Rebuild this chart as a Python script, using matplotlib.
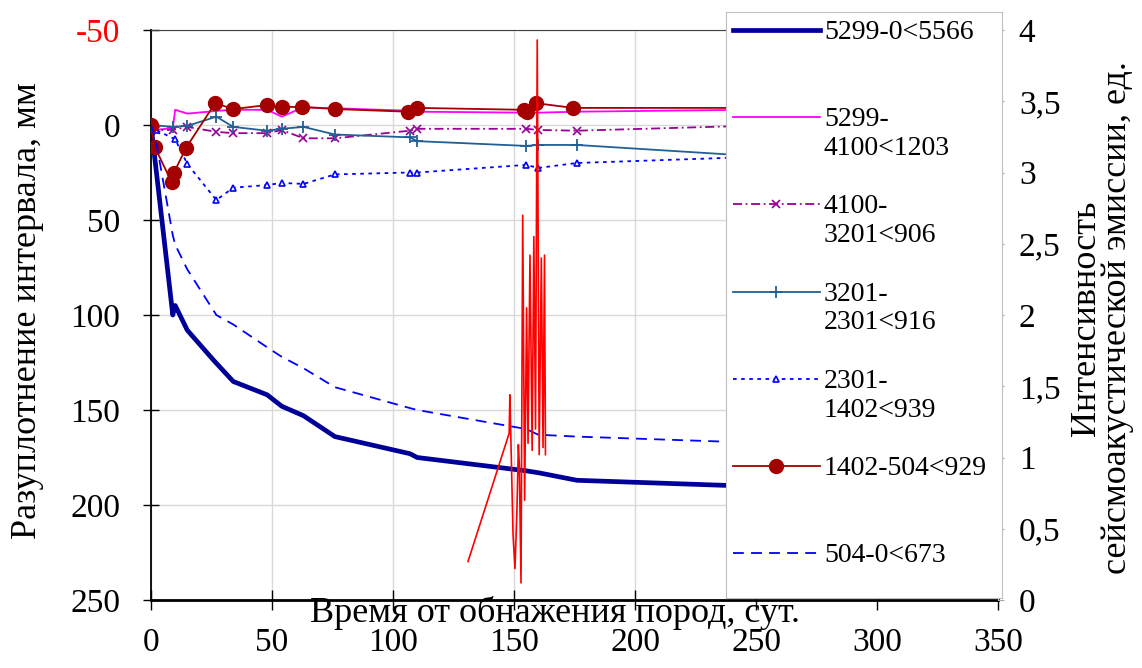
import numpy as np
import matplotlib.pyplot as plt

plt.rcParams['font.family'] = ['Liberation Serif', 'DejaVu Serif']

# %% data (days, mm; right axis: intensity)
labels = ['5299-0<5566', '5299-\n4100<1203', '4100-\n3201<906',
          '3201-\n2301<916', '2301-\n1402<939', '1402-504<929', '504-0<673']

x1 = [0, 9, 10, 15, 26, 34, 48, 54, 63, 76, 107, 110, 155, 160, 176, 245]
y1 = [0, 100, 95, 108, 124, 135, 142, 148, 153, 164, 173, 175, 182, 183, 187, 190]

x2 = [0, 2, 9, 10, 15, 27, 34, 48, 54, 63, 76, 107, 110, 155, 160, 176, 245]
y2 = [0, 2.6, 1.6, -8, -6, -7.4, -8, -8, -4.4, -9.3, -8.8, -7.5, -7, -6.5, -6.5, -7, -8]

x3 = [0, 2, 9, 15, 27, 34, 48, 54, 63, 76, 107, 110, 155, 160, 176, 245]
y3 = [0, 2.6, 2.6, 1, 3.6, 4.3, 4.3, 2.6, 7, 7, 3, 2, 2, 2.6, 3, 0.5]

x4 = [0, 9, 15, 27, 34, 48, 54, 63, 76, 107, 110, 155, 160, 176, 245]
y4 = [0, 1, 0.5, -4.4, 1, 3, 2, 1, 5, 6.5, 8.5, 11, 10.5, 10.5, 16]

x5 = [0, 2, 10, 15, 27, 34, 48, 54, 63, 76, 107, 110, 155, 160, 176, 245]
y5 = [0, 2.6, 7.5, 20.5, 39.5, 33, 31.6, 30.5, 31, 26, 25, 25, 21, 22.6, 20, 17]

x6 = [0, 1.5, 8.5, 9.5, 14.5, 26.5, 34, 48, 54, 62.5, 76, 106, 110, 154, 155.5,
      159, 174.5, 245]
y6 = [0, 11.4, 30, 25, 12, -11.5, -8.4, -10.5, -9.5, -9.5, -8.4, -7, -9, -8, -7,
      -11.5, -9, -9]

x7 = [0, 2, 9, 10, 15, 27, 34, 48, 54, 63, 76, 107, 110, 155, 160, 176, 245]
y7 = [0, 8, 58, 63, 76, 100, 105, 117, 122, 128, 138, 149, 150, 160, 163, 164, 167]

# seismoacoustic emission (right axis)
xr = [131, 148, 148.3, 149.6, 150.4, 151.2, 151.8, 152.2, 152.9, 153.6, 154.4,
      155.2, 155.8, 156.6, 157.5, 158.2, 158.9, 159.6, 160.4, 161.3, 162.0,
      162.6, 163.0]
yr = [0.27, 1.17, 1.44, 0.46, 0.22, 0.62, 1.09, 0.95, 0.12, 2.70, 0.70, 2.05,
      1.10, 2.42, 1.05, 2.55, 1.2, 3.93, 1.02, 2.4, 1.07, 2.42, 1.02]

left_ticks = [-50, 0, 50, 100, 150, 200, 250]
left_tick_labels = ['-50', '0', '50', '100', '150', '200', '250']
right_ticks = [0, 0.5, 1, 1.5, 2, 2.5, 3, 3.5, 4]
right_tick_labels = ['0', '0,5', '1', '1,5', '2', '2,5', '3', '3,5', '4']
x_ticks = [0, 50, 100, 150, 200, 250, 300, 350]

# %% styles
styles = [
    dict(color='#000099', lw=3.4),
    dict(color='#FF00FF', lw=1.3),
    dict(color='#990099', lw=1.3, ls=(0, (5, 2, 1, 2)), marker='x', ms=6,
         mew=1.2),
    dict(color='#215F96', lw=1.3, marker='+', ms=8, mew=1.3),
    dict(color='#0000FF', lw=1.3, ls=(0, (2, 2.5)), marker='^', ms=5,
         mfc='white', mew=1.2),
    dict(color='#A50000', lw=1.3, marker='o', ms=10),
    dict(color='#0000FF', lw=1.3, ls=(0, (6, 4))),
]
series = [(x1, y1), (x2, y2), (x3, y3), (x4, y4), (x5, y5), (x6, y6), (x7, y7)]

# %% figure
W, H = 1142, 668
fig = plt.figure(figsize=(W / 100, H / 100), dpi=100)
ax = fig.add_axes([151 / W, 68 / H, 847 / W, 570 / H])

for (xs, ys), st in zip(series, styles):
    ax.plot(xs, ys, **st, zorder=3)

ax.set_xlim(0, 350)
ax.set_ylim(250, -50)
ax.set_xticks(x_ticks)
ax.set_yticks(left_ticks, left_tick_labels)
ax.get_yticklabels()[0].set_color('red')
ax.grid(color='#D9D9D9', lw=1)
ax.set_axisbelow(True)
ax.tick_params(axis='y', direction='inout', length=12, width=1, labelsize=24,
               pad=16)
ax.tick_params(axis='x', direction='inout', length=14, width=1, labelsize=24,
               pad=13)
ax.spines['left'].set_linewidth(1.3)
ax.spines['bottom'].set_linewidth(2)
ax.spines['top'].set_color('#404040')
ax.spines['right'].set_visible(False)

ax2 = ax.twinx()
ax2.plot(xr, yr, color='#FF0000', lw=1.2, zorder=4)
ax2.set_ylim(0, 4)
ax2.set_yticks(right_ticks, right_tick_labels)
ax2.tick_params(axis='y', direction='out', length=4, color='#A6A6A6',
                labelsize=24, pad=11)
for s in ['top', 'left', 'bottom']:
    ax2.spines[s].set_visible(False)
ax2.spines['right'].set_color('#BFBFBF')

# axis titles
fig.text(555 / W, 1 - 613 / H, 'Время от обнажения пород, сут.', fontsize=26,
         ha='center', va='center')
fig.text(28 / W, 1 - 311 / H, 'Разуплотнение интервала, мм', fontsize=26,
         rotation=90, ha='center', va='center')
fig.text(1102 / W, 1 - 318 / H,
         'Интенсивность\nсейсмоакустической эмиссии, ед.', fontsize=26,
         rotation=90, ha='center', va='center', multialignment='center',
         linespacing=0.95)

# %% legend box (drawn by hand to keep Excel-like layout)
lax = fig.add_axes([726 / W, 70 / H, 276 / W, 586 / H], zorder=5)
lax.set_xlim(0, 276)
lax.set_ylim(586, 0)
lax.set_xticks([])
lax.set_yticks([])
for s in lax.spines.values():
    s.set_color('#BFBFBF')
for i, (lab, st) in enumerate(zip(labels, styles)):
    yy = 18 + 87.2 * i
    lax.plot([7, 50, 94], [yy, yy, yy], **st, markevery=[1])
    lax.text(98, yy - 10, lab, fontsize=20, va='top', ha='left',
             linespacing=1.2)

fig.savefig('out.png', dpi=100)
